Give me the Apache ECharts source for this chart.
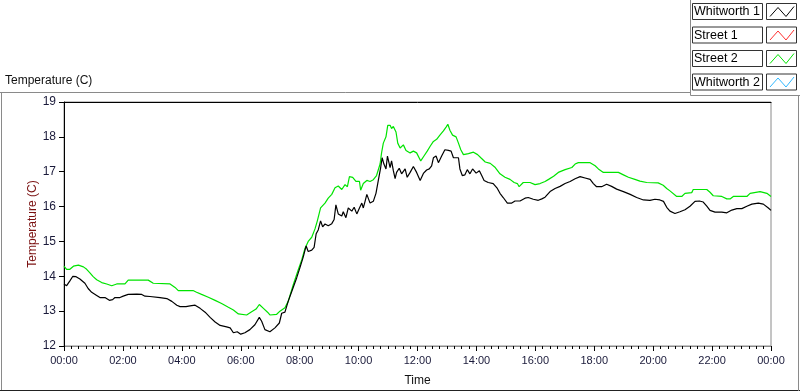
<!DOCTYPE html>
<html>
<head>
<meta charset="utf-8">
<script src="https://cdn.jsdelivr.net/npm/echarts@6/dist/echarts.min.js"></script>
<style>html,body{margin:0;padding:0;background:#fff}#c{width:800px;height:392px}</style>
</head>
<body>
<div id="c"></div>
<script>
// ---- data (time in hours since 00:00, temperature in C) ----
const seriesNames = ['Whitworth 1', 'Street 1', 'Street 2', 'Whitworth 2'];
const seriesColors = ['#000000', '#ff3030', '#00e400', '#30b8ff'];
const xTickLabels = ['00:00','02:00','04:00','06:00','08:00','10:00','12:00','14:00','16:00','18:00','20:00','22:00','00:00'];

const whitworth1Times = [0.00,0.09,0.20,0.30,0.41,0.54,0.71,0.82,0.94,1.11,1.22,1.39,1.54,1.65,1.73,1.90,2.01,2.18,2.47,2.64,2.75,2.92,3.26,3.49,3.66,3.83,3.94,4.14,4.28,4.45,4.62,4.79,4.96,5.13,5.30,5.52,5.64,5.75,5.88,6.00,6.14,6.31,6.48,6.63,6.71,6.82,6.99,7.16,7.31,7.39,7.50,7.61,7.78,7.90,8.01,8.12,8.22,8.29,8.41,8.49,8.56,8.63,8.71,8.78,8.86,8.97,9.09,9.17,9.23,9.31,9.43,9.48,9.57,9.65,9.77,9.85,9.94,10.03,10.11,10.16,10.22,10.28,10.39,10.50,10.59,10.67,10.75,10.80,10.86,10.93,10.98,11.07,11.12,11.18,11.24,11.29,11.38,11.46,11.58,11.65,11.75,11.86,11.97,12.09,12.20,12.31,12.40,12.48,12.54,12.63,12.71,12.82,12.93,13.05,13.14,13.22,13.39,13.44,13.52,13.61,13.69,13.78,13.87,13.99,14.10,14.18,14.26,14.40,14.57,14.71,14.80,14.91,15.05,15.20,15.31,15.48,15.65,15.76,15.93,16.10,16.22,16.33,16.50,16.67,16.84,17.01,17.18,17.35,17.52,17.69,17.86,17.97,18.08,18.25,18.42,18.59,18.76,18.99,19.22,19.44,19.67,19.89,20.06,20.23,20.35,20.46,20.57,20.74,20.91,21.08,21.25,21.42,21.57,21.70,21.82,21.93,22.10,22.33,22.50,22.67,22.84,23.01,23.18,23.35,23.57,23.74,23.91,24.00];
const whitworth1Temps = [13.78,13.73,13.87,14.00,13.99,13.92,13.80,13.65,13.54,13.45,13.39,13.39,13.31,13.33,13.39,13.39,13.43,13.48,13.49,13.48,13.43,13.42,13.39,13.36,13.28,13.17,13.13,13.13,13.15,13.17,13.08,12.97,12.82,12.69,12.59,12.55,12.52,12.38,12.41,12.34,12.38,12.47,12.61,12.82,12.71,12.47,12.41,12.52,12.66,12.94,12.97,13.28,13.68,13.96,14.25,14.55,14.87,14.71,14.75,14.83,15.22,15.33,15.59,15.42,15.50,15.45,15.51,15.63,16.05,15.79,15.73,15.85,15.68,15.96,15.87,15.98,15.79,15.96,16.10,15.96,16.15,16.35,16.10,16.15,16.38,16.75,17.12,17.40,17.22,17.08,17.45,17.12,17.31,17.03,16.80,16.98,17.10,16.94,17.08,16.84,16.98,17.15,16.98,16.75,16.95,17.05,17.08,17.17,17.40,17.45,17.26,17.45,17.63,17.61,17.59,17.40,17.40,17.08,16.89,16.91,17.06,16.94,17.08,16.96,17.03,16.89,16.75,16.69,16.66,16.52,16.38,16.26,16.10,16.10,16.16,16.16,16.24,16.26,16.21,16.18,16.22,16.27,16.43,16.52,16.58,16.66,16.72,16.80,16.86,16.82,16.78,16.66,16.57,16.57,16.64,16.58,16.50,16.43,16.35,16.26,16.19,16.18,16.21,16.19,16.15,15.98,15.87,15.80,15.85,15.91,16.01,16.15,16.16,16.13,16.01,15.89,15.84,15.84,15.82,15.90,15.94,15.94,16.01,16.07,16.10,16.07,15.96,15.89];

const street1Times = [];
const street1Temps = [];

const street2Times = [0.00,0.09,0.20,0.32,0.49,0.66,0.77,0.88,0.99,1.11,1.28,1.45,1.62,1.79,2.07,2.18,2.86,3.03,3.60,3.77,3.88,4.38,4.50,4.67,4.90,5.13,5.35,5.58,5.75,5.92,6.20,6.37,6.52,6.63,6.77,6.91,6.99,7.22,7.33,7.50,7.61,7.78,7.95,8.07,8.18,8.29,8.41,8.52,8.60,8.71,8.86,8.97,9.09,9.20,9.31,9.43,9.54,9.62,9.69,9.80,9.91,10.03,10.07,10.16,10.28,10.39,10.50,10.61,10.73,10.78,10.84,10.93,10.99,11.07,11.12,11.18,11.27,11.33,11.41,11.52,11.61,11.75,11.86,11.97,12.11,12.22,12.33,12.43,12.54,12.65,12.76,12.88,12.97,13.03,13.10,13.19,13.31,13.39,13.47,13.56,13.73,13.90,14.04,14.15,14.30,14.47,14.64,14.80,14.97,15.14,15.28,15.39,15.45,15.59,15.82,15.99,16.16,16.33,16.45,16.62,16.78,17.01,17.24,17.35,17.46,17.86,18.03,18.14,18.31,18.82,18.99,19.16,19.38,19.55,19.78,20.17,20.34,20.46,20.57,20.63,20.80,20.97,21.08,21.31,21.36,21.82,21.93,22.04,22.33,22.50,22.61,22.72,23.18,23.29,23.63,23.86,24.00];
const street2Temps = [14.29,14.20,14.20,14.29,14.32,14.27,14.20,14.10,13.99,13.90,13.82,13.78,13.73,13.78,13.78,13.89,13.89,13.80,13.78,13.68,13.59,13.59,13.54,13.48,13.40,13.31,13.22,13.11,13.03,12.92,12.89,12.98,13.06,13.19,13.08,12.97,12.89,12.91,13.00,13.10,13.28,13.75,14.18,14.47,14.80,15.00,15.12,15.36,15.59,15.96,16.10,16.24,16.35,16.54,16.59,16.49,16.63,16.57,16.86,16.84,16.72,16.72,16.47,16.66,16.75,16.72,16.77,16.89,17.22,17.54,17.82,18.00,18.33,18.33,18.24,18.30,18.14,17.82,17.68,17.77,17.61,17.54,17.59,17.54,17.31,17.45,17.59,17.73,17.87,17.93,18.05,18.17,18.28,18.36,18.19,18.05,18.00,17.82,17.63,17.49,17.52,17.56,17.49,17.40,17.28,17.24,17.12,16.94,16.84,16.78,16.69,16.66,16.57,16.69,16.69,16.63,16.66,16.72,16.78,16.87,16.98,17.06,17.12,17.22,17.26,17.26,17.17,17.08,16.98,16.98,16.91,16.84,16.78,16.73,16.69,16.68,16.61,16.52,16.45,16.40,16.29,16.29,16.38,16.40,16.49,16.49,16.41,16.31,16.29,16.22,16.22,16.29,16.29,16.38,16.43,16.38,16.29];

const whitworth2Times = [];
const whitworth2Temps = [];

// ---- build chart ----
const zip = (t, v) => t.map((x, i) => [x, v[i]]);
const allData = [
  zip(whitworth1Times, whitworth1Temps),
  zip(street1Times, street1Temps),
  zip(street2Times, street2Temps),
  zip(whitworth2Times, whitworth2Temps)
];
const drawOrder = [1, 3, 2, 0];

const FONT = 'Liberation Sans';
const chart = echarts.init(document.getElementById('c'), null, {renderer: 'canvas'});

// legend (LabVIEW style boxes)
const legendGraphics = [];
seriesNames.forEach((name, i) => {
  const y = 3.5 + i * 23.5;
  legendGraphics.push({type: 'rect', shape: {x: 692.5, y: y, width: 70, height: 16},
    style: {fill: '#fff', stroke: '#333', lineWidth: 1}});
  legendGraphics.push({type: 'text', x: 694, y: y + 8.5,
    style: {text: name, fill: '#000', font: '12.5px ' + FONT, textVerticalAlign: 'middle'}});
  legendGraphics.push({type: 'rect', shape: {x: 766.5, y: y, width: 30, height: 16},
    style: {fill: '#fff', stroke: '#333', lineWidth: 1}});
  legendGraphics.push({type: 'polyline', shape: {points: [[770, y + 13], [778, y + 4], [786, y + 13], [794, y + 3]]},
    style: {stroke: seriesColors[i], lineWidth: 1, fill: null}});
});

const frame = [
  {type: 'line', shape: {x1: 0, y1: 92.5, x2: 690.5, y2: 92.5}, style: {stroke: '#8a8a8a', lineWidth: 1}},
  {type: 'line', shape: {x1: 690.5, y1: 0, x2: 690.5, y2: 95.5}, style: {stroke: '#8a8a8a', lineWidth: 1}},
  {type: 'line', shape: {x1: 690.5, y1: 95.5, x2: 800, y2: 95.5}, style: {stroke: '#8a8a8a', lineWidth: 1}},
  {type: 'line', shape: {x1: 1.5, y1: 92.5, x2: 1.5, y2: 391}, style: {stroke: '#8a8a8a', lineWidth: 1}},
  {type: 'line', shape: {x1: 0, y1: 390.5, x2: 800, y2: 390.5}, style: {stroke: '#222', lineWidth: 1}},
  {type: 'line', shape: {x1: 798.5, y1: 95.5, x2: 798.5, y2: 391}, style: {stroke: '#8a8a8a', lineWidth: 1}}
];

chart.setOption({
  animation: false,
  backgroundColor: '#fff',
  textStyle: {fontFamily: FONT},
  title: {text: 'Temperature (C)', left: 0, top: 70, padding: [5, 5, 5, 5],
    textStyle: {fontSize: 12, fontWeight: 'normal', color: '#111', fontFamily: FONT}},
  grid: {left: 64, right: 29, top: 102, bottom: 40, show: true, borderColor: '#8a8a8a', borderWidth: 1},
  xAxis: [{
    type: 'value', min: 0, max: 24, interval: 2,
    name: 'Time', nameLocation: 'middle', nameGap: 29, nameMoveOverlap: false,
    nameTextStyle: {fontSize: 12, color: '#111', fontFamily: FONT},
    axisLine: {show: true, lineStyle: {color: '#8a8a8a'}},
    axisTick: {show: true, length: 5, lineStyle: {color: '#000'}},
    minorTick: {show: true, splitNumber: 8, length: 3, lineStyle: {color: '#000'}},
    splitLine: {show: false},
    axisLabel: {margin: 9, fontSize: 11, color: '#1a1a3a', fontFamily: FONT,
      formatter: v => xTickLabels[Math.round(v / 2)]}
  }, {
    type: 'value', min: 0, max: 24, position: 'top',
    axisLine: {show: true, lineStyle: {color: '#000'}},
    axisTick: {show: false}, axisLabel: {show: false}, splitLine: {show: false}
  }],
  yAxis: {
    type: 'value', min: 12, max: 19, interval: 1,
    name: 'Temperature (C)', nameLocation: 'middle', nameGap: 25, nameMoveOverlap: false,
    nameTextStyle: {fontSize: 12, color: '#7a1010', fontFamily: FONT},
    axisLine: {show: true, lineStyle: {color: '#000'}},
    axisTick: {show: true, length: 5, lineStyle: {color: '#000'}},
    splitLine: {show: false},
    axisLabel: {margin: 8, fontSize: 12, color: '#1a1a3a', fontFamily: FONT}
  },
  graphic: frame.concat(legendGraphics),
  series: drawOrder.map(i => ({
    name: seriesNames[i], type: 'line', data: allData[i], xAxisIndex: 0,
    showSymbol: false, symbol: 'none', smooth: false,
    lineStyle: {color: seriesColors[i], width: 1.2},
    itemStyle: {color: seriesColors[i]}
  }))
});
</script>
</body>
</html>
